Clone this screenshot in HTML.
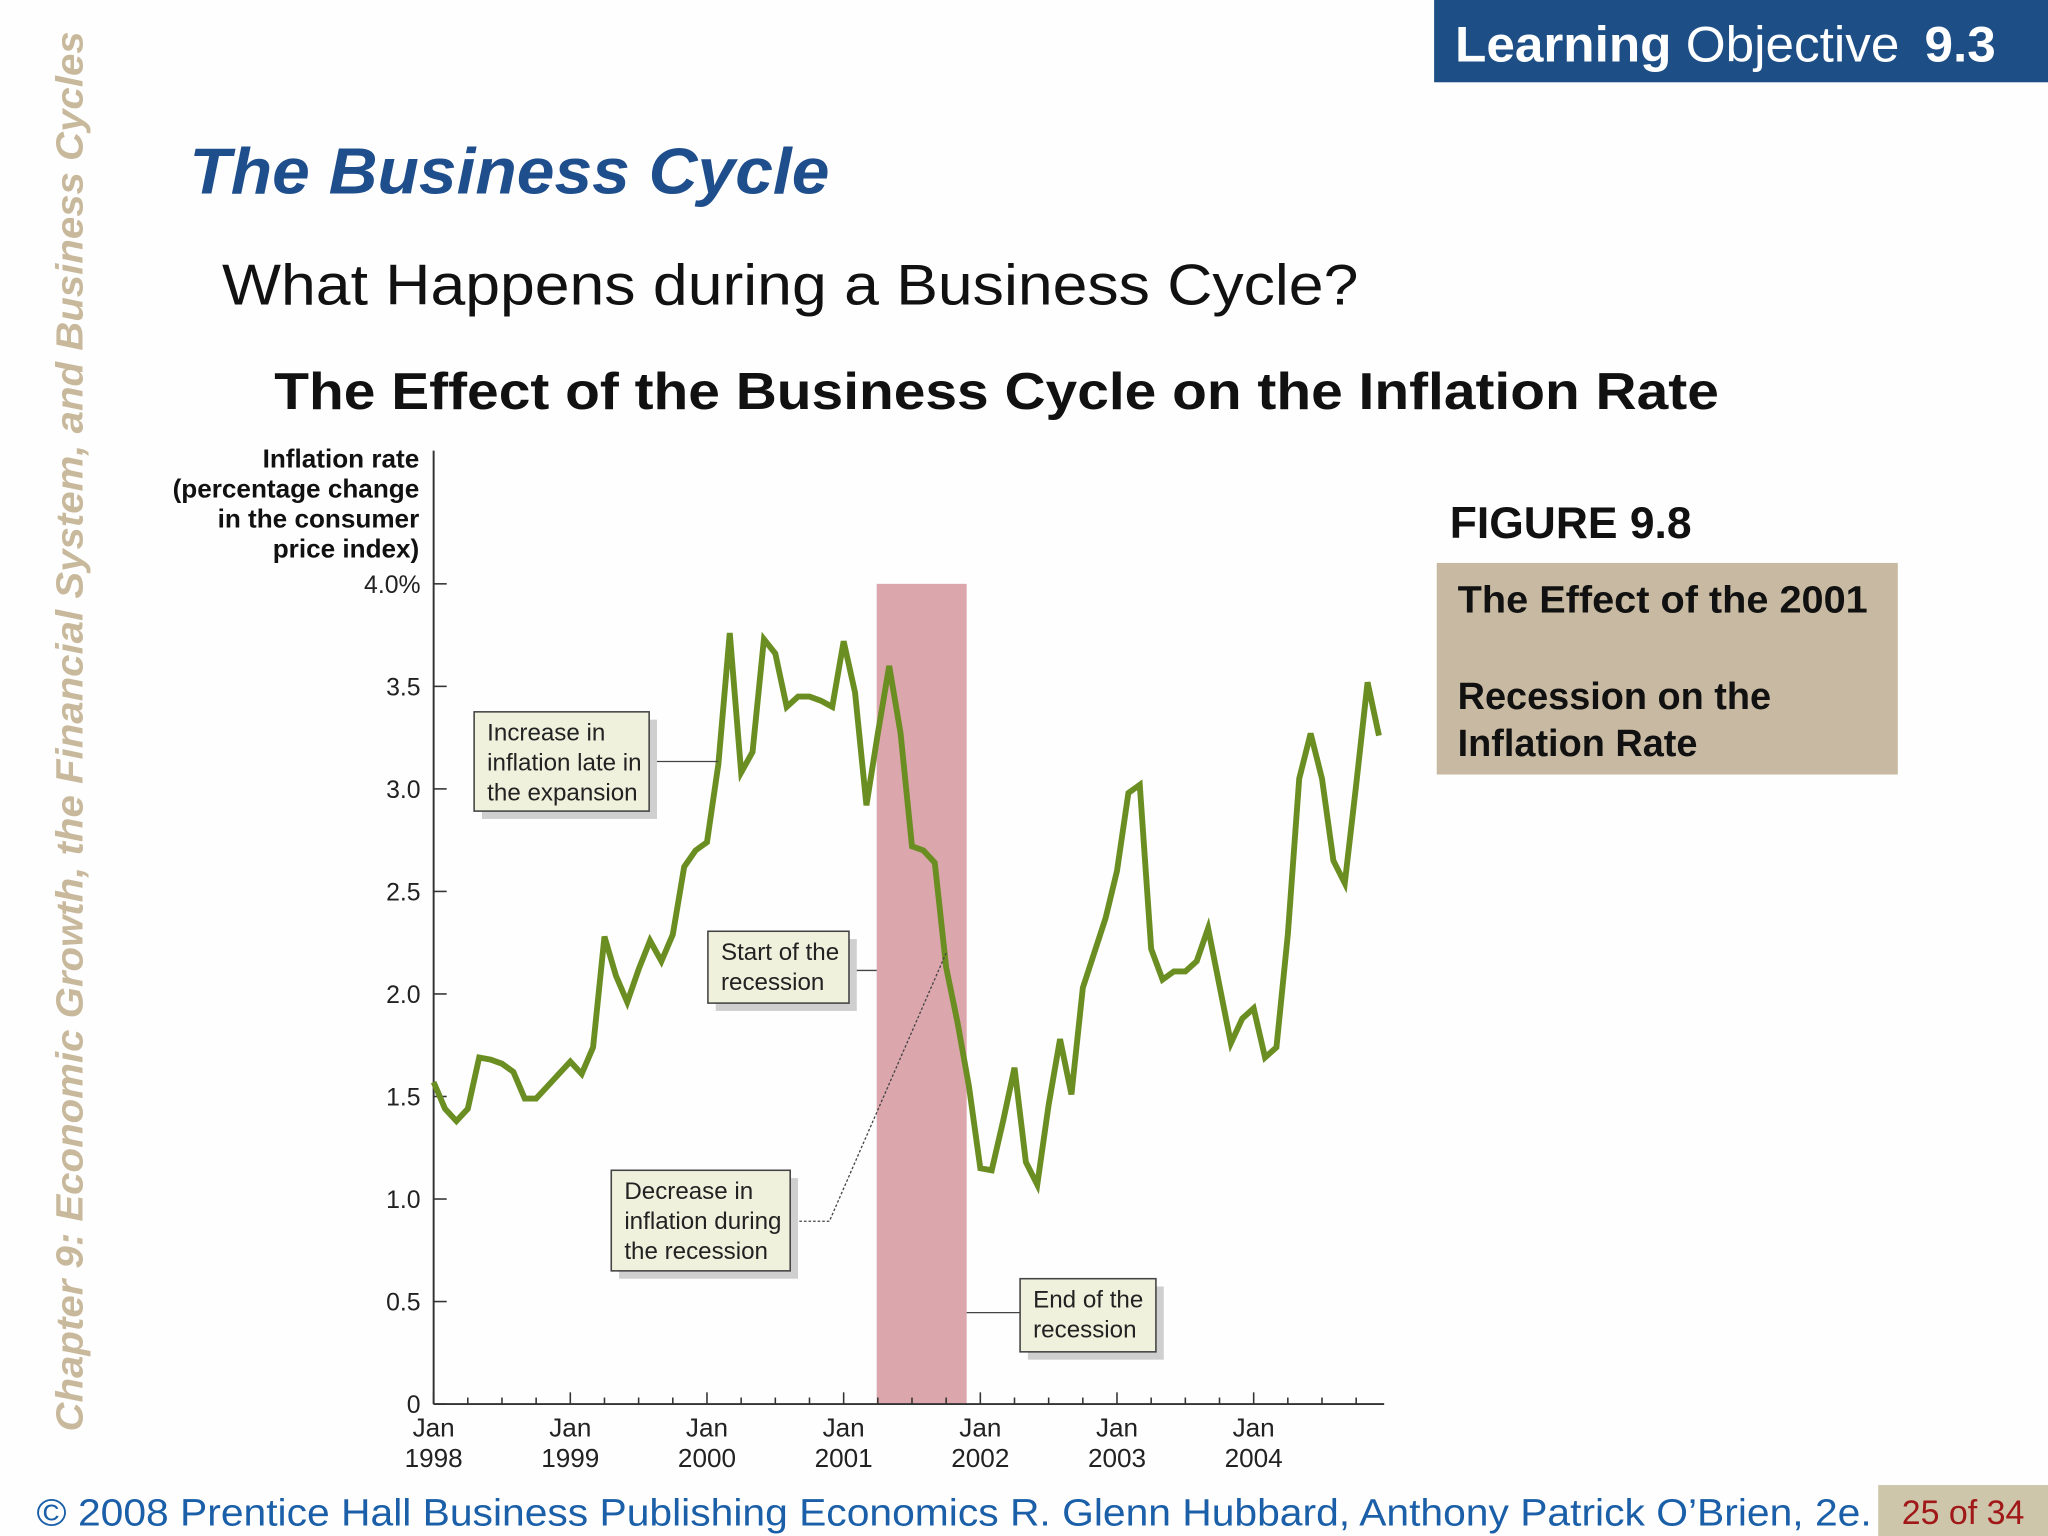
<!DOCTYPE html>
<html><head><meta charset="utf-8"><style>
html,body{margin:0;padding:0;background:#fff;}
svg{display:block;font-family:"Liberation Sans",Arial,sans-serif;}
</style></head><body>
<svg id="slide" width="2048" height="1536" viewBox="0 0 1568 1176" xmlns="http://www.w3.org/2000/svg">
<rect x="0" y="0" width="1568" height="1176" fill="#fefefe"/>
<g>
<rect x="1098" y="0" width="470" height="63" fill="#1d4f86"/>
<text x="1114" y="47" font-size="38" fill="#fff" textLength="414" lengthAdjust="spacingAndGlyphs"><tspan font-weight="bold">Learning</tspan> Objective <tspan font-weight="bold" dx="8">9.3</tspan></text>
</g>
<text transform="translate(63,1096) rotate(-90)" font-size="29" font-weight="bold" font-style="italic" fill="#c8b99c" textLength="1072" lengthAdjust="spacingAndGlyphs">Chapter 9:  Economic Growth, the Financial System, and Business Cycles</text>
<text x="145" y="148" font-size="50" font-weight="bold" font-style="italic" fill="#1f4e8c" textLength="490" lengthAdjust="spacingAndGlyphs">The Business Cycle</text>
<text x="170" y="233" font-size="44" fill="#111" textLength="870" lengthAdjust="spacingAndGlyphs">What Happens during a Business Cycle?</text>
<text x="210" y="313" font-size="40" font-weight="bold" fill="#111" textLength="1106" lengthAdjust="spacingAndGlyphs">The Effect of the Business Cycle on the Inflation Rate</text>
<g font-size="20" font-weight="bold" fill="#111" text-anchor="end">
<text x="321" y="358">Inflation rate</text>
<text x="321" y="381">(percentage change</text>
<text x="321" y="404">in the consumer</text>
<text x="321" y="427">price index)</text>
</g>
<text x="1110" y="412" font-size="34" font-weight="bold" fill="#111">FIGURE 9.8</text>
<g>
<rect x="1100" y="431" width="353" height="162" fill="#c8b9a2"/>
<g font-size="29" font-weight="bold" fill="#111">
<text x="1116" y="469" textLength="314" lengthAdjust="spacingAndGlyphs">The Effect of the 2001</text>
<text x="1116" y="543">Recession on the</text>
<text x="1116" y="579">Inflation Rate</text>
</g></g>
<g id="chart"></g>
<g>
<text x="28" y="1168" font-size="29" fill="#1a5fa8" textLength="1405" lengthAdjust="spacingAndGlyphs">© 2008 Prentice Hall Business Publishing   Economics  R. Glenn Hubbard, Anthony Patrick O’Brien, 2e.</text>
<rect x="1438" y="1137" width="130" height="39" fill="#cdc6aa"/>
<text x="1456" y="1167" font-size="26" fill="#a01818">25 of 34</text>
</g>
</svg>
<script>
const yearLabels = ["1998","1999","2000","2001","2002","2003","2004"];
const yTicks = [0,0.5,1.0,1.5,2.0,2.5,3.0,3.5,4.0];
const yTickLabels = ["0","0.5","1.0","1.5","2.0","2.5","3.0","3.5","4.0%"];
const inflation = [
1.57,1.44,1.38,1.44,1.69,1.68,1.66,1.62,1.49,1.49,1.55,1.61,
1.67,1.61,1.74,2.28,2.09,1.96,2.12,2.26,2.16,2.29,2.62,2.70,
2.74,3.12,3.76,3.08,3.18,3.73,3.66,3.40,3.45,3.45,3.43,3.40,
3.72,3.47,2.92,3.27,3.60,3.27,2.72,2.70,2.64,2.13,1.86,1.55,
1.15,1.14,1.38,1.64,1.18,1.07,1.46,1.78,1.51,2.03,2.20,2.37,
2.60,2.98,3.02,2.22,2.07,2.11,2.11,2.16,2.32,2.04,1.76,1.88,
1.93,1.69,1.74,2.29,3.05,3.27,3.05,2.65,2.54,3.02,3.52,3.26];
const recessionStart = 38.9, recessionEnd = 46.8;

const NS="http://www.w3.org/2000/svg";
const g=document.getElementById('chart');
const X0=332, MONTH=8.72, Y0=1075, PER=157;
const xs=i=>X0+i*MONTH;
const ys=v=>Y0-v*PER;
function mk(tag,attrs,parent){const e=document.createElementNS(NS,tag);for(const k in attrs)e.setAttribute(k,attrs[k]);(parent||g).appendChild(e);return e;}

const rec=mk('rect',{x:xs(recessionStart),y:ys(4),width:xs(recessionEnd)-xs(recessionStart),height:ys(0)-ys(4),fill:'#dca6ad'});



const yax=mk('line',{x1:X0,y1:345,x2:X0,y2:Y0,stroke:'#333','stroke-width':1.5});


const xax=mk('line',{x1:X0,y1:Y0,x2:xs(83)+4,y2:Y0,stroke:'#333','stroke-width':1.5});



yTicks.forEach((v,i)=>{
  mk('line',{x1:X0,y1:ys(v),x2:X0+10,y2:ys(v),stroke:'#333','stroke-width':1.2});
  const t=mk('text',{x:322,y:ys(v)+7,'font-size':19,'text-anchor':'end',fill:'#222'});
  t.textContent=yTickLabels[i];
  
  
});
for(let m=0;m<84;m+=3){
  const major=m%12===0;
  mk('line',{x1:xs(m),y1:Y0,x2:xs(m),y2:Y0-(major?9:5),stroke:'#333','stroke-width':1.2});
}
yearLabels.forEach((yl,k)=>{
  const x=xs(k*12);
  const t1=mk('text',{x:x,y:1100,'font-size':20,'text-anchor':'middle',fill:'#222'});
  t1.textContent='Jan';
  
  
  const t2=mk('text',{x:x,y:1123,'font-size':20,'text-anchor':'middle',fill:'#222'});
  t2.textContent=yl;
  
  
});

const line=mk('polyline',{points:inflation.map((v,i)=>xs(i)+','+ys(v)).join(' '),fill:'none',stroke:'#6b8e23','stroke-width':4.5,'stroke-linejoin':'miter'});



function note(name,x,y,w,h,lines,lead){
  const grp=mk('g',{});
  
  
  if(lead) mk('polyline',{points:lead,fill:'none',stroke:'#444','stroke-width':1},grp);
  mk('rect',{x:x+6,y:y+6,width:w,height:h,fill:'#cfcfcf'},grp);
  mk('rect',{x:x,y:y,width:w,height:h,fill:'#eff1dc',stroke:'#444','stroke-width':1.2},grp);
  lines.forEach((s,i)=>{const t=mk('text',{x:x+10,y:y+22+i*23,'font-size':18.5,fill:'#222'},grp);t.textContent=s;});
}
note('annotation-expansion',363,545,134,76,['Increase in','inflation late in','the expansion'],'497,583 '+xs(25)+',583');
note('annotation-recession-start',542,713,108,55,['Start of the','recession'],'650,743 '+xs(recessionStart)+',743');
const dl=mk('polyline',{points:'605,935 635,935 '+(xs(45))+','+ys(2.2),fill:'none',stroke:'#444','stroke-width':1,'stroke-dasharray':'2,1.5'});


note('annotation-decrease',468,896,137,77,['Decrease in','inflation during','the recession'],null);
note('annotation-recession-end',781,979,104,56,['End of the','recession'],xs(recessionEnd)+',1005 781,1005');
</script>
</body></html>
